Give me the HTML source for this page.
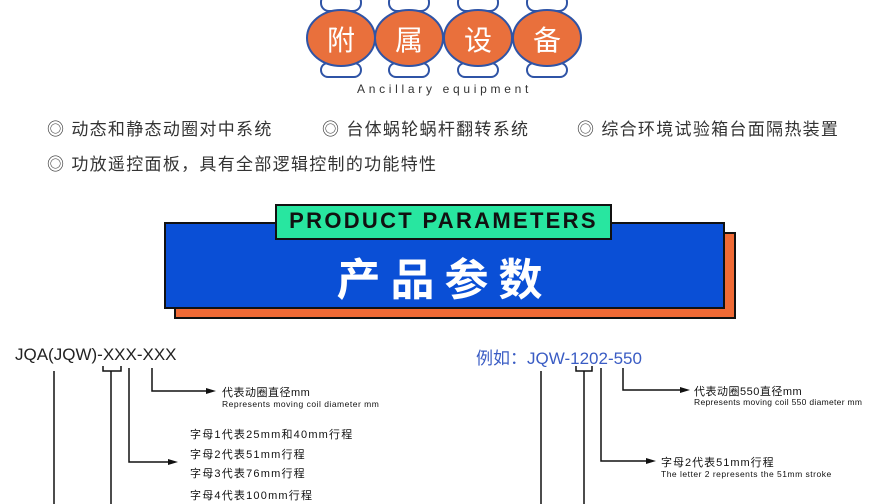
<!DOCTYPE html>
<html><head><meta charset="utf-8"><style>
body{margin:0;width:890px;height:504px;background:#fff;position:relative;overflow:hidden;font-family:"Liberation Sans","Noto Sans CJK SC",sans-serif}
.a{position:absolute;white-space:nowrap}
.b{font-size:17px;color:#333;letter-spacing:1.3px}
.s{font-size:11px;color:#111;letter-spacing:0.5px}
.e{font-size:8.5px;color:#111;letter-spacing:0.5px}
</style></head><body>
<svg class="a" style="left:0;top:0" width="890" height="504">
<g stroke="#2f54a6" stroke-width="2" fill="#fff">
<rect x="321" y="-6" width="40" height="17" rx="8"/><rect x="389" y="-6" width="40" height="17" rx="8"/><rect x="458" y="-6" width="40" height="17" rx="8"/><rect x="527" y="-6" width="40" height="17" rx="8"/>
<rect x="321" y="63" width="40" height="14" rx="7"/><rect x="389" y="63" width="40" height="14" rx="7"/><rect x="458" y="63" width="40" height="14" rx="7"/><rect x="527" y="63" width="40" height="14" rx="7"/>
</g>
<g stroke="#2f54a6" stroke-width="2" fill="#e9703c">
<ellipse cx="341" cy="38" rx="34" ry="28"/><ellipse cx="409" cy="38" rx="34" ry="28"/><ellipse cx="478" cy="38" rx="34" ry="28"/><ellipse cx="547" cy="38" rx="34" ry="28"/>
</g>
<rect x="175" y="233" width="560" height="85" fill="#f06a35" stroke="#111" stroke-width="2"/>
<rect x="165" y="223" width="559" height="85" fill="#0a4fd6" stroke="#111" stroke-width="2"/>
<rect x="276" y="205" width="335" height="34" fill="#28e6a0" stroke="#111" stroke-width="2"/>
<g stroke="#111" stroke-width="1.5" fill="none">
<path d="M54 371V504M111 371V504M103 366V371H121V366M129 368V462H168M152 368V391H210"/>
<path d="M541 371V504M584 371V504M576 366V371H592V366M601 368V461H650M623 368V390H684"/>
</g>
<g fill="#111"><path d="M178 462l-10-3v6z"/><path d="M216 391l-10-3v6z"/><path d="M656 461l-10-3v6z"/><path d="M690 390l-10-3v6z"/></g>
</svg>
<div class="a" style="left:327px;top:19px;font-size:28px;color:#fff">附</div>
<div class="a" style="left:395px;top:19px;font-size:28px;color:#fff">属</div>
<div class="a" style="left:464px;top:19px;font-size:28px;color:#fff">设</div>
<div class="a" style="left:533px;top:19px;font-size:28px;color:#fff">备</div>
<div class="a" style="left:357px;top:82px;font-size:12px;letter-spacing:3.7px;color:#333">Ancillary equipment</div>
<div class="a b" style="left:47px;top:115px">◎ 动态和静态动圈对中系统</div>
<div class="a b" style="left:322px;top:115px">◎ 台体蜗轮蜗杆翻转系统</div>
<div class="a b" style="left:577px;top:115px">◎ 综合环境试验箱台面隔热装置</div>
<div class="a b" style="left:47px;top:150px">◎ 功放遥控面板，具有全部逻辑控制的功能特性</div>
<div class="a" style="left:276px;top:208px;width:335px;text-align:center;font-size:22px;font-weight:bold;letter-spacing:2.3px;color:#111">PRODUCT PARAMETERS</div>
<div class="a" style="left:165px;top:244px;width:559px;text-align:center;font-size:44px;font-weight:bold;letter-spacing:10px;color:#fff">产品参数</div>
<div class="a" style="left:15px;top:345px;font-size:17px;color:#222">JQA(JQW)-XXX-XXX</div>
<div class="a s" style="left:222px;top:384px">代表动圈直径mm</div>
<div class="a e" style="left:222px;top:399px">Represents moving coil diameter mm</div>
<div class="a s" style="left:190px;top:426px;letter-spacing:1.2px">字母1代表25mm和40mm行程</div>
<div class="a s" style="left:190px;top:446px;letter-spacing:1.2px">字母2代表51mm行程</div>
<div class="a s" style="left:190px;top:465px;letter-spacing:1.2px">字母3代表76mm行程</div>
<div class="a s" style="left:190px;top:487px;letter-spacing:1.2px">字母4代表100mm行程</div>
<div class="a" style="left:476px;top:344px;font-size:17px;color:#3a5cc4">例如：JQW-1202-550</div>
<div class="a s" style="left:694px;top:383px">代表动圈550直径mm</div>
<div class="a e" style="left:694px;top:397px;letter-spacing:0.3px">Represents moving coil 550 diameter mm</div>
<div class="a s" style="left:661px;top:454px;letter-spacing:1px">字母2代表51mm行程</div>
<div class="a e" style="left:661px;top:469px;letter-spacing:0.5px">The letter 2 represents the 51mm stroke</div>
</body></html>
